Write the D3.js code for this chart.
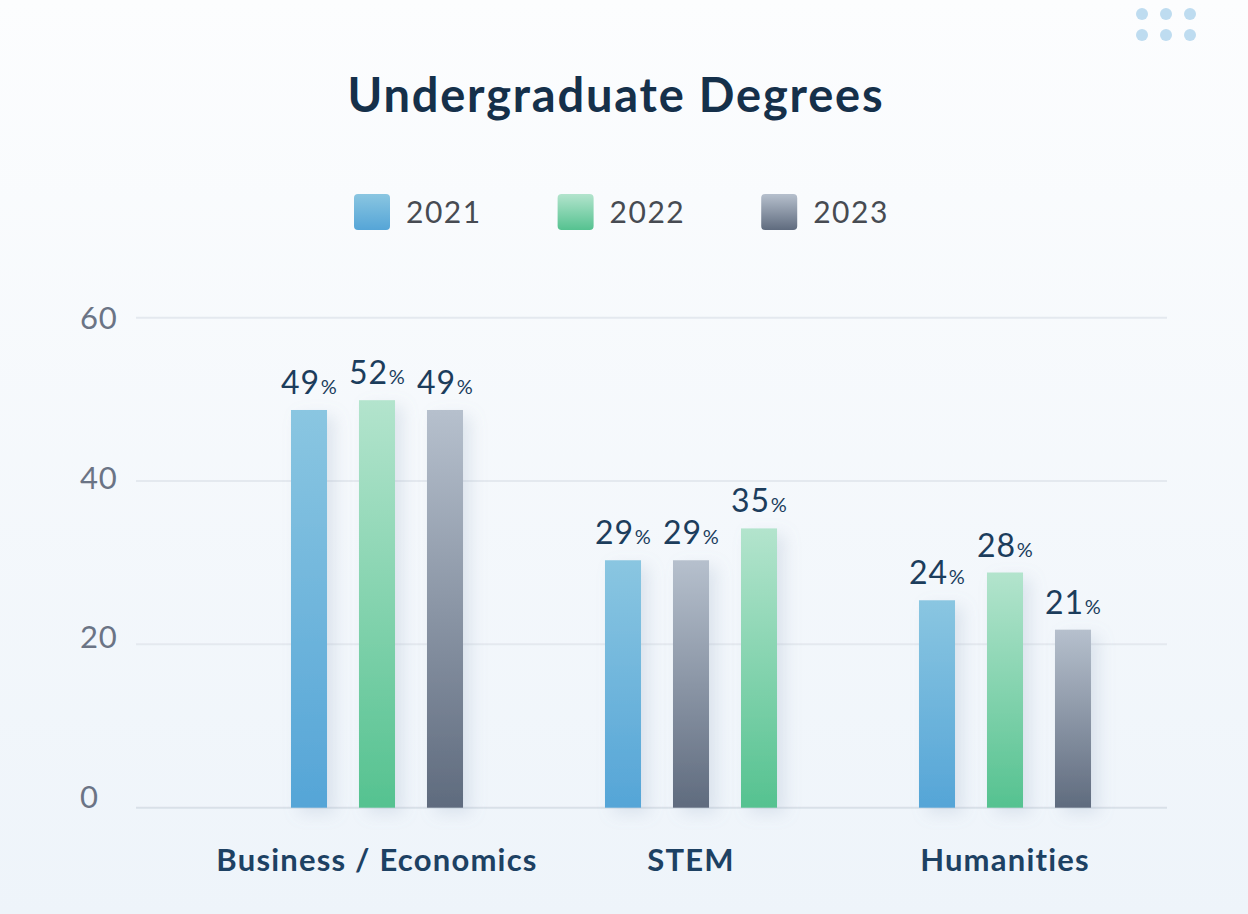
<!DOCTYPE html>
<html>
<head>
<meta charset="utf-8">
<script src="https://cdn.jsdelivr.net/npm/d3@7"></script>
<style>
html,body{margin:0;padding:0;background:#f5f9fc;}
svg{display:block;}
</style>
</head>
<body>
<svg id="chart" width="1248" height="914"></svg>
<script>
// ---- data ----
const title = "Undergraduate Degrees";
const categories = ["Business / Economics", "STEM", "Humanities"];
const years = ["2021", "2022", "2023"];
// bar heights as drawn
const values2021 = [48.7, 30.3, 25.4];
const values2022 = [49.9, 34.2, 28.8];
const values2023 = [48.7, 30.3, 21.8];
// printed labels
const labels2021 = [49, 29, 24];
const labels2022 = [52, 35, 28];
const labels2023 = [49, 29, 21];
// bar order inside each group
const barOrder = [["2021","2022","2023"], ["2021","2023","2022"], ["2021","2022","2023"]];
const yTicks = [0, 20, 40, 60];

const W = 1248, H = 914;
const svg = d3.select("#chart");
const defs = svg.append("defs");

const FONT = "Lato, 'Open Sans', sans-serif";

// background
const bg = defs.append("linearGradient").attr("id","bg").attr("x1",0).attr("y1",0).attr("x2",0).attr("y2",1);
bg.append("stop").attr("offset","0%").attr("stop-color","#fcfdfe");
bg.append("stop").attr("offset","100%").attr("stop-color","#eef4fa");
svg.append("rect").attr("width",W).attr("height",H).attr("fill","url(#bg)");

// bar gradients
const palette = {
  "2021": ["#8ac6e1", "#55a5d7"],
  "2022": ["#b3e4cd", "#55c290"],
  "2023": ["#b6c0cd", "#5f6b7e"]
};
years.forEach(y => {
  const g = defs.append("linearGradient").attr("id","g"+y).attr("x1",0).attr("y1",0).attr("x2",0).attr("y2",1);
  g.append("stop").attr("offset","0%").attr("stop-color",palette[y][0]);
  g.append("stop").attr("offset","100%").attr("stop-color",palette[y][1]);
});
const sh = defs.append("filter").attr("id","shadow").attr("x","-60%").attr("y","-20%").attr("width","260%").attr("height","160%");
sh.append("feDropShadow").attr("dx",8).attr("dy",6).attr("stdDeviation",8)
  .attr("flood-color","#8fa3bb").attr("flood-opacity",0.22);

// decorative dots
const dotX = d3.scalePoint().domain([0,1,2]).range([1142, 1190]);
const dotY = d3.scalePoint().domain([0,1]).range([14, 35]);
[0,1].forEach(r => [0,1,2].forEach(c => {
  svg.append("circle").attr("cx",dotX(c)).attr("cy",dotY(r)).attr("r",6).attr("fill","#bedcf0");
}));

// title
svg.append("text").attr("x",616).attr("y",112).attr("text-anchor","middle")
  .attr("font-family",FONT).attr("font-weight",700).attr("font-size",47)
  .attr("fill","#15304a").attr("letter-spacing",1.8).text(title);

// legend
const legend = svg.append("g");
let lx = 354;
years.forEach((yr) => {
  const g = legend.append("g").attr("transform",`translate(${lx},194)`);
  g.append("rect").attr("width",36).attr("height",36).attr("rx",4).attr("fill","url(#g"+yr+")");
  const t = g.append("text").attr("x",52).attr("y",18).attr("dy","0.35em")
    .attr("font-family",FONT).attr("font-size",30).attr("fill","#474b52").attr("letter-spacing",1.5).text(yr);
  lx += 52 + t.node().getComputedTextLength() + 76;
});

// scales
const y = d3.scaleLinear().domain([0, 60]).range([807.7, 317.7]);
const yLab = d3.scaleLinear().domain([0, 60]).range([797, 318]);
const x0 = d3.scaleBand().domain(categories).range([220, 1162]);
const x1 = d3.scaleBand().domain([0,1,2]).range([-102, 102]).paddingInner(0.47).paddingOuter(0.235);

// gridlines
svg.append("g").selectAll("line").data(yTicks).join("line")
  .attr("x1",136).attr("x2",1167).attr("y1",d=>y(d)).attr("y2",d=>y(d))
  .attr("stroke", d => d === 0 ? "#d9e0e8" : "#e4e9ef").attr("stroke-width",2);

// y tick labels
svg.append("g").selectAll("text").data(yTicks).join("text")
  .attr("x",80).attr("y",d=>yLab(d)).attr("dy","0.36em")
  .attr("font-family",FONT).attr("font-size",31).attr("letter-spacing",0.8).attr("fill","#6b7485")
  .text(d=>d);

// bars
const seriesVals = {"2021": values2021, "2022": values2022, "2023": values2023};
const seriesLabs = {"2021": labels2021, "2022": labels2022, "2023": labels2023};
const barData = [];
categories.forEach((c, ci) => {
  barOrder[ci].forEach((yr, k) => {
    barData.push({cat: c, slot: k, year: yr, value: seriesVals[yr][ci], label: seriesLabs[yr][ci]});
  });
});

const gb = svg.append("g");
gb.selectAll("rect").data(barData).join("rect")
  .attr("x", d => x0(d.cat) + x0.bandwidth()/2 + x1(d.slot))
  .attr("width", x1.bandwidth())
  .attr("y", d => y(d.value))
  .attr("height", d => y(0) - y(d.value))
  .attr("fill", d => "url(#g"+d.year+")")
  .attr("filter","url(#shadow)");

// value labels
const vl = svg.append("g").selectAll("text").data(barData).join("text")
  .attr("x", d => x0(d.cat) + x0.bandwidth()/2 + x1(d.slot) + x1.bandwidth()/2)
  .attr("y", d => y(d.value) - 16)
  .attr("text-anchor","middle")
  .attr("font-family",FONT).attr("fill","#1c3d5c");
vl.append("tspan").attr("font-size",32).attr("letter-spacing",0.8).text(d => d.label);
vl.append("tspan").attr("font-size",20).attr("dx",1).text("%");

// category labels
svg.append("g").selectAll("text").data(categories).join("text")
  .attr("x", d => x0(d) + x0.bandwidth()/2)
  .attr("y", 871)
  .attr("text-anchor","middle")
  .attr("font-family",FONT).attr("font-weight",700).attr("font-size",31)
  .attr("fill","#1d4163").attr("letter-spacing",1.2)
  .text(d => d);
</script>
</body>
</html>
